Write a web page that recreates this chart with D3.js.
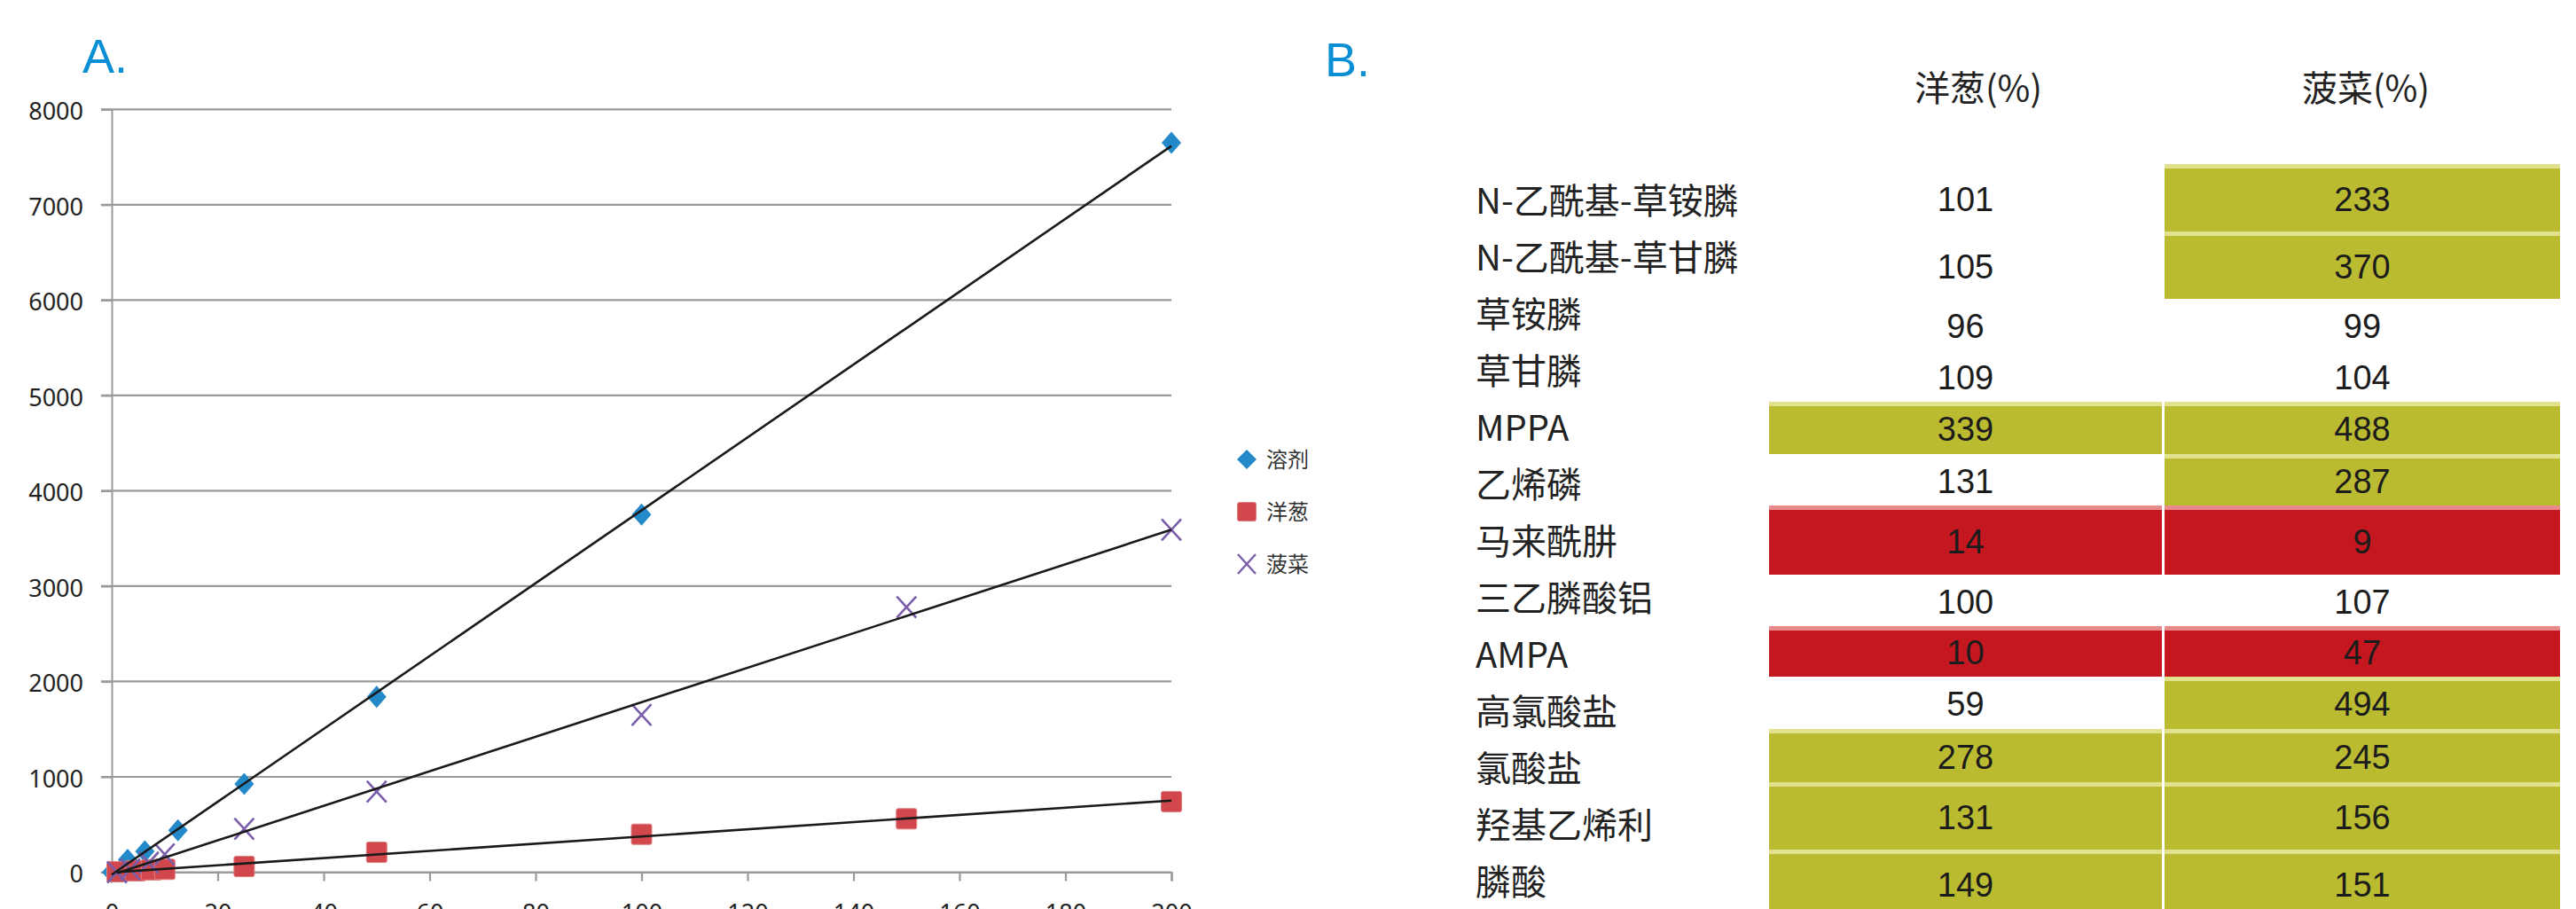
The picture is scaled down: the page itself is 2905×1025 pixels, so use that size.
<!DOCTYPE html>
<html>
<head>
<meta charset="utf-8">
<script src="https://cdn.jsdelivr.net/npm/d3@7"></script>
<style>
  html, body { margin: 0; padding: 0; background: #ffffff; }
  svg { display: block; }
</style>
</head>
<body>
<svg id="fig" width="2905" height="1025"></svg>
<script>
// ---------- Panel A: calibration curves (response vs. concentration) ----------
const solventConc = [0, 3, 6.25, 12.5, 25, 50, 100, 200];
const solventResp = [0, 130, 218, 440, 925, 1840, 3750, 7650];

const onionConc = [1, 4.5, 7.5, 10, 25, 50, 100, 150, 200];
const onionResp = [5, 15, 25, 30, 60, 209, 398, 560, 740];

const spinachConc = [1, 3.5, 7, 10, 25, 50, 100, 150, 200];
const spinachResp = [0, 30, 100, 188, 455, 845, 1650, 2780, 3590];

const seriesNames = ["溶剂", "洋葱", "菠菜"];
const xTicks = [0, 20, 40, 60, 80, 100, 120, 140, 160, 180, 200];
const yTicks = [0, 1000, 2000, 3000, 4000, 5000, 6000, 7000, 8000];

// ---------- Panel B: matrix recovery table ----------
const analytes = ["N-乙酰基-草铵膦", "N-乙酰基-草甘膦", "草铵膦", "草甘膦", "MPPA", "乙烯磷",
  "马来酰肼", "三乙膦酸铝", "AMPA", "高氯酸盐", "氯酸盐", "羟基乙烯利", "膦酸"];
const onionPct   = [101, 105, 96, 109, 339, 131, 14, 100, 10, 59, 278, 131, 149];
const spinachPct = [233, 370, 99, 104, 488, 287, 9, 107, 47, 494, 245, 156, 151];
// cell flags: "hi" = enhancement, "lo" = suppression, "" = unflagged
const onionFlag   = ["", "", "", "", "hi", "", "lo", "", "lo", "", "hi", "hi", "hi"];
const spinachFlag = ["hi", "hi", "", "", "hi", "hi", "lo", "", "lo", "hi", "hi", "hi", "hi"];
const columnHeads = ["洋葱(%)", "菠菜(%)"];

const svg = d3.select("#fig");

// ================= Panel A =================
const x = d3.scaleLinear().domain([0, 200]).range([126, 1321]);
const y = d3.scaleLinear().domain([0, 8000]).range([983.5, 123.3]);

const gridColor = "#9a9a9a";
const tickFont = "'Noto Sans', 'Open Sans', sans-serif";

svg.append("text")
  .attr("x", 93).attr("y", 82)
  .attr("font-family", "'Liberation Sans', Arial, sans-serif")
  .attr("font-size", 54)
  .attr("fill", "#0a8fd4")
  .text("A.");

// horizontal gridlines (extend slightly left of the value axis like tick marks)
svg.append("g").selectAll("line")
  .data(yTicks)
  .join("line")
  .attr("x1", 114).attr("x2", x(200))
  .attr("y1", d => y(d)).attr("y2", d => y(d))
  .attr("stroke", gridColor)
  .attr("stroke-width", 2.2);

// y axis
const yAxis = svg.append("g")
  .attr("transform", `translate(${x(0)},0)`)
  .call(d3.axisLeft(y).tickValues(yTicks).tickSize(12).tickPadding(20).tickFormat(d3.format("d")));
yAxis.select(".domain").attr("stroke", gridColor).attr("stroke-width", 2);
yAxis.selectAll(".tick line").attr("stroke", gridColor).attr("stroke-width", 2.2);
yAxis.selectAll(".tick text")
  .attr("font-family", tickFont).attr("font-size", 27).attr("fill", "#222")
  .attr("dy", "0.42em");

// x axis
const xAxis = svg.append("g")
  .attr("transform", `translate(0,${y(0)})`)
  .call(d3.axisBottom(x).tickValues(xTicks).tickSize(10).tickPadding(26).tickFormat(d3.format("d")));
xAxis.select(".domain").attr("stroke", gridColor).attr("stroke-width", 2.2);
xAxis.selectAll(".tick line").attr("stroke", gridColor).attr("stroke-width", 2.2);
xAxis.selectAll(".tick text")
  .attr("font-family", tickFont).attr("font-size", 27).attr("fill", "#222");

const blue = "#2389c9", red = "#d2474b", purple = "#7a5eaa";
const diamond = "M0,-12.5L11,0L0,12.5L-11,0Z";
const cross = "M-11,-12L11,12M-11,12L11,-12";

const solvent = solventConc.map((c, i) => ({ c, r: solventResp[i] }));
const onion = onionConc.map((c, i) => ({ c, r: onionResp[i] }));
const spinach = spinachConc.map((c, i) => ({ c, r: spinachResp[i] }));

const marks = svg.append("g");
marks.selectAll(".sol").data(solvent).join("path")
  .attr("class", "sol")
  .attr("d", diamond)
  .attr("transform", d => `translate(${x(d.c)},${y(d.r)})`)
  .attr("fill", blue);

marks.selectAll(".oni").data(onion).join("rect")
  .attr("class", "oni")
  .attr("x", d => x(d.c) - 11.5).attr("y", d => y(d.r) - 11.5)
  .attr("width", 23).attr("height", 23).attr("rx", 2)
  .attr("fill", red).attr("stroke", "#e07f81").attr("stroke-width", 1);

marks.selectAll(".spi").data(spinach).join("path")
  .attr("class", "spi")
  .attr("d", cross)
  .attr("transform", d => `translate(${x(d.c)},${y(d.r)})`)
  .attr("fill", "none").attr("stroke", purple).attr("stroke-width", 2.6);

// least-squares linear trendlines over each series' concentration range
function fit(data) {
  const mx = d3.mean(data, d => d.c), my = d3.mean(data, d => d.r);
  const sxy = d3.sum(data, d => (d.c - mx) * (d.r - my));
  const sxx = d3.sum(data, d => (d.c - mx) ** 2);
  const k = sxy / sxx, b = my - k * mx;
  const [lo, hi] = d3.extent(data, d => d.c);
  return [{ c: lo, r: k * lo + b }, { c: hi, r: k * hi + b }];
}
const trend = d3.line().x(d => x(d.c)).y(d => y(d.r));
svg.append("g").selectAll("path")
  .data([solvent, onion, spinach].map(fit))
  .join("path")
  .attr("d", trend)
  .attr("fill", "none").attr("stroke", "#1a1a1a").attr("stroke-width", 2.6);

// legend
const legend = svg.append("g").attr("transform", "translate(1406,518)");
const lg = legend.selectAll("g").data(seriesNames).join("g")
  .attr("transform", (d, i) => `translate(0,${i * 59})`);
lg.each(function (d, i) {
  const g = d3.select(this);
  if (i === 0) g.append("path").attr("d", "M0,-11L11,0L0,11L-11,0Z").attr("fill", blue);
  if (i === 1) g.append("rect").attr("x", -10.5).attr("y", -10.5).attr("width", 21).attr("height", 21)
    .attr("rx", 2).attr("fill", red).attr("stroke", "#e07f81");
  if (i === 2) g.append("path").attr("d", "M-10,-11L10,11M-10,11L10,-11")
    .attr("stroke", purple).attr("stroke-width", 2.4).attr("fill", "none");
});
lg.append("text")
  .attr("x", 22).attr("dy", "0.36em")
  .attr("font-family", "'Noto Sans CJK SC', sans-serif")
  .attr("font-size", 24).attr("fill", "#333")
  .text(d => d);

// ================= Panel B =================
svg.append("text")
  .attr("x", 1494).attr("y", 86)
  .attr("font-family", "'Liberation Sans', Arial, sans-serif")
  .attr("font-size", 54)
  .attr("fill", "#0a8fd4")
  .text("B.");

// row boundaries of the shaded grid and the two value columns
const rowEdges = [185, 261, 337, 395, 453, 512, 570, 648, 706, 763, 822, 882, 958, 1034];
const colX = [[1995, 2438], [2441, 2887]];
const headX = [2231, 2668];
const fill = { hi: "#bbbb32", lo: "#c4171f" };
const sheen = { hi: "#e2e28c", lo: "#e98a8c" };

const labelY = d3.scaleLinear().domain([0, analytes.length - 1]).range([227, 995]);

const rows = analytes.map((name, i) => ({
  name, i,
  cells: [
    { v: onionPct[i], f: onionFlag[i], col: 0 },
    { v: spinachPct[i], f: spinachFlag[i], col: 1 }
  ]
}));

const table = svg.append("g");

table.selectAll(".head").data(columnHeads).join("text")
  .attr("class", "head")
  .attr("x", (d, j) => headX[j]).attr("y", 100).attr("dy", "0.36em")
  .attr("text-anchor", "middle")
  .attr("font-family", "'Noto Sans CJK SC', sans-serif")
  .attr("font-size", 40).attr("fill", "#222")
  .text(d => d);

const cellData = rows.flatMap(r => r.cells.map(c => ({ ...c, i: r.i })));

const cellG = table.selectAll(".cell").data(cellData).join("g").attr("class", "cell");
cellG.filter(d => d.f).append("rect")
  .attr("x", d => colX[d.col][0]).attr("width", d => colX[d.col][1] - colX[d.col][0])
  .attr("y", d => rowEdges[d.i]).attr("height", d => rowEdges[d.i + 1] - rowEdges[d.i])
  .attr("fill", d => fill[d.f]);
cellG.filter(d => d.f).append("rect")
  .attr("x", d => colX[d.col][0]).attr("width", d => colX[d.col][1] - colX[d.col][0])
  .attr("y", d => rowEdges[d.i]).attr("height", 5)
  .attr("fill", d => sheen[d.f]);
cellG.append("text")
  .attr("x", d => (colX[d.col][0] + colX[d.col][1]) / 2)
  .attr("y", d => (rowEdges[d.i] + rowEdges[d.i + 1]) / 2 + 1)
  .attr("dy", "0.36em")
  .attr("text-anchor", "middle")
  .attr("font-family", "'Liberation Sans', Arial, sans-serif")
  .attr("font-size", 38).attr("fill", "#1c1c1c")
  .text(d => d.v);

table.selectAll(".label").data(rows).join("text")
  .attr("class", "label")
  .attr("x", 1664).attr("y", d => labelY(d.i)).attr("dy", "0.36em")
  .attr("font-family", "'Noto Sans CJK SC', sans-serif")
  .attr("font-size", 40).attr("fill", "#222")
  .text(d => d.name);
</script>
</body>
</html>
